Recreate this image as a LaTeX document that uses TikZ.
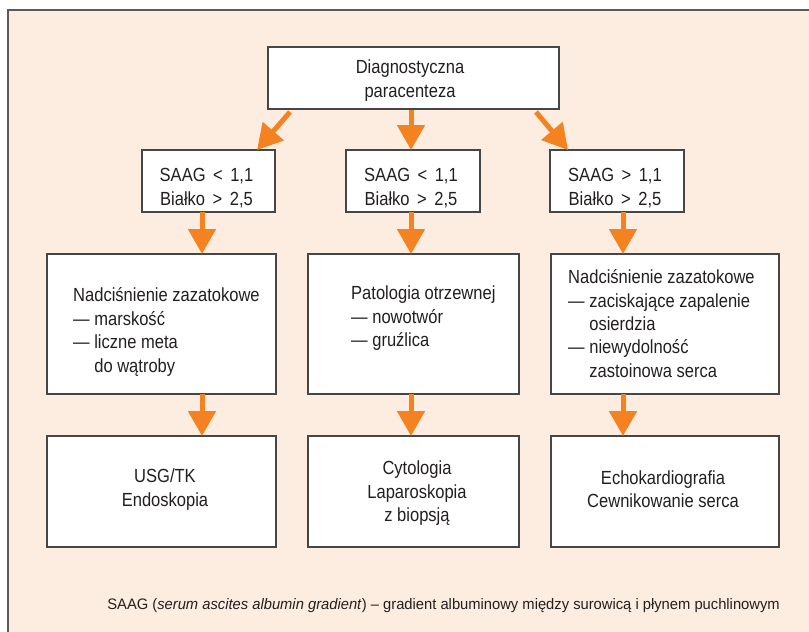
\documentclass[tikz,border=0pt]{standalone}
\usepackage{fontspec}
\setmainfont{Liberation Sans}[FakeStretch=0.87]
\newfontfamily\capfont{Liberation Sans}[FakeStretch=0.97]
\usetikzlibrary{arrows.meta,calc}
\definecolor{cream}{RGB}{253,237,224}
\definecolor{orng}{RGB}{245,130,32}
\definecolor{ink}{RGB}{35,31,32}
\definecolor{edge}{RGB}{70,70,70}
\definecolor{framec}{RGB}{90,90,90}
\newcommand{\wsp}{\hspace{7.5pt}}
\begin{document}
\begin{tikzpicture}[x=1pt,y=-1pt,
  box/.style={draw=edge,line width=1.3pt,fill=white,inner sep=0pt,outer sep=0pt},
  txt/.style={text=ink,font=\fontsize{19}{23.4}\selectfont,inner sep=0pt,align=left},
  ctxt/.style={txt,align=center},
  arr/.style={draw=orng,line width=5pt,-{Triangle[width=27pt,length=25pt]}}]
\useasboundingbox (0,0) rectangle (809,632);
\fill[white] (0,0) rectangle (809,632);
\fill[cream] (8,10) rectangle (830,650);
\draw[framec,line width=1.5pt] (8,650) -- (8,10) -- (830,10);

% boxes
\node[box,minimum width=291pt,minimum height=62pt] (top) at (413.5,78) {};
\node[box,minimum width=133pt,minimum height=62pt] (l2a) at (208.5,181) {};
\node[box,minimum width=134pt,minimum height=62pt] (l2b) at (413,181) {};
\node[box,minimum width=134pt,minimum height=62pt] (l2c) at (617,181) {};
\node[box,minimum width=229pt,minimum height=140pt] (l3a) at (161.5,324) {};
\node[box,minimum width=211pt,minimum height=140pt] (l3b) at (413.5,324) {};
\node[box,minimum width=228pt,minimum height=140pt] (l3c) at (665,324) {};
\node[box,minimum width=229pt,minimum height=111pt] (l4a) at (161.5,491.5) {};
\node[box,minimum width=211pt,minimum height=111pt] (l4b) at (413.5,491.5) {};
\node[box,minimum width=228pt,minimum height=111pt] (l4c) at (665,491.5) {};

% texts (anchor = baseline of the last line)
\node[ctxt,anchor=base] (ttop) at (410,97.2) {Diagnostyczna\\paracenteza};
\node[ctxt,anchor=base] (t2a) at (206.5,205) {SAAG\wsp<\wsp1,1\\Białko\wsp>\wsp2,5};
\node[ctxt,anchor=base] (t2b) at (411,205) {SAAG\wsp<\wsp1,1\\Białko\wsp>\wsp2,5};
\node[ctxt,anchor=base] (t2c) at (615,205) {SAAG\wsp>\wsp1,1\\Białko\wsp>\wsp2,5};
\node[txt,anchor=base west] (t3a) at (73,372) {Nadciśnienie zazatokowe\\— marskość\\— liczne meta\\\hphantom{— }do wątroby};
\node[txt,anchor=base west] (t3b) at (351,346.7) {Patologia otrzewnej\\— nowotwór\\— gruźlica};
\node[txt,anchor=base west] (t3c) at (568,377.3) {Nadciśnienie zazatokowe\\— zaciskające zapalenie\\\hphantom{— }osierdzia\\— niewydolność\\\hphantom{— }zastoinowa serca};
\node[ctxt,anchor=base] (t4a) at (165,506) {USG/TK\\Endoskopia};
\node[ctxt,anchor=base] (t4b) at (417,521.7) {Cytologia\\Laparoskopia\\z biopsją};
\node[ctxt,anchor=base] (t4c) at (663,507.7) {Echokardiografia\\Cewnikowanie serca};

\node[text=ink,font=\capfont\fontsize{15.2}{18}\selectfont,inner sep=0pt,anchor=base east] (cap) at (780,609)
  {SAAG (\textit{serum ascites albumin gradient}) – gradient albuminowy między surowicą i płynem puchlinowym};

% arrow columns
\coordinate (ca) at (202,0);
\coordinate (cb) at (411,0);
\coordinate (cc) at (623,0);

\draw[arr] ($(top.south west)+(22,3)$) -- ($(l2a.north east)+(-18,0)$);
\draw[arr] ($(top.south)+(-2.5,1)$) -- (l2b.north -| cb);
\draw[arr] ($(top.south east)+(-23,3)$) -- ($(l2c.north west)+(18,0)$);

\draw[arr] (l2a.south -| ca) -- (l3a.north -| ca);
\draw[arr] (l2b.south -| cb) -- (l3b.north -| cb);
\draw[arr] (l2c.south -| cc) -- (l3c.north -| cc);

\draw[arr] (l3a.south -| ca) -- (l4a.north -| ca);
\draw[arr] (l3b.south -| cb) -- (l4b.north -| cb);
\draw[arr] (l3c.south -| cc) -- (l4c.north -| cc);
\end{tikzpicture}
\end{document}
